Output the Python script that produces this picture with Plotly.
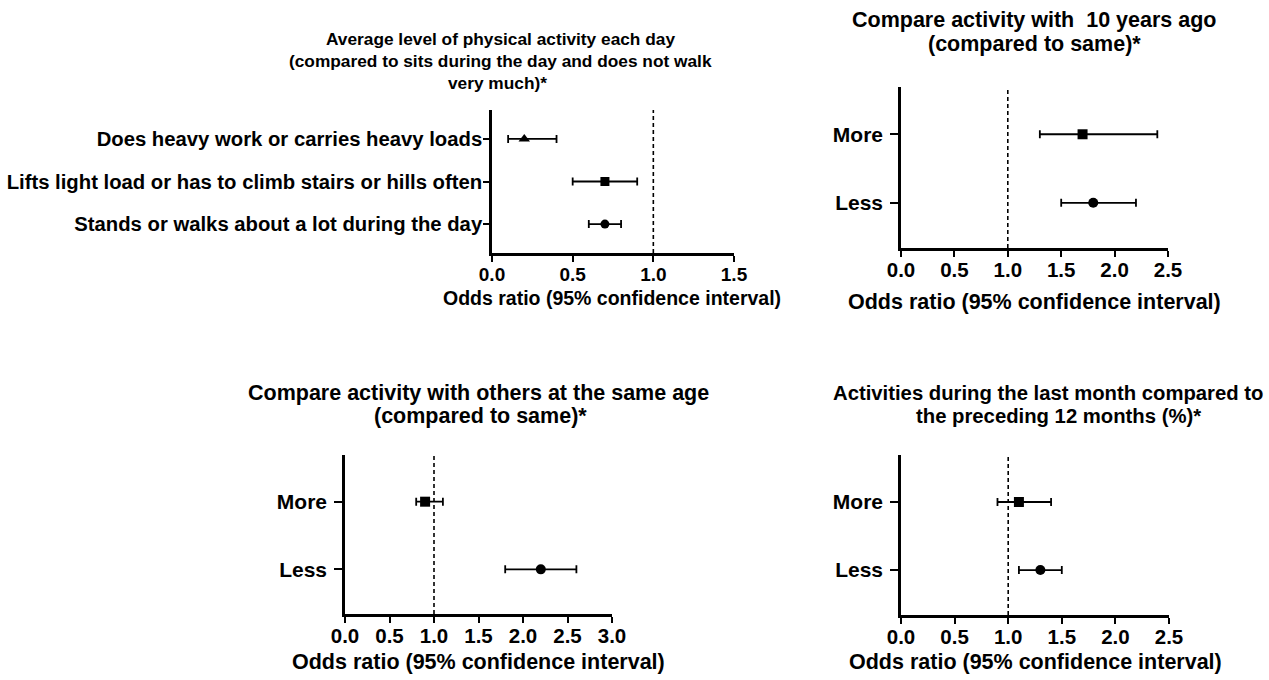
import plotly.graph_objects as go

# ---------------- data ----------------
p1_labels = ["Does heavy work or carries heavy loads",
             "Lifts light load or has to climb stairs or hills often",
             "Stands or walks about a lot during the day"]
p1_pos = [2, 1, 0]
p1_or = [0.2, 0.7, 0.7]
p1_lo = [0.1, 0.5, 0.6]
p1_hi = [0.4, 0.9, 0.8]
p1_symbols = ["triangle-up", "square", "circle"]

cat_labels = ["More", "Less"]
cat_pos = [1, 0]
cat_symbols = ["square", "circle"]

p2_or = [1.7, 1.8]
p2_lo = [1.3, 1.5]
p2_hi = [2.4, 2.2]

p3_or = [0.9, 2.2]
p3_lo = [0.8, 1.8]
p3_hi = [1.1, 2.6]

p4_or = [1.1, 1.3]
p4_lo = [0.9, 1.1]
p4_hi = [1.4, 1.5]

titles = {
    1: ["Average level of physical activity each day",
        "(compared to sits during the day and does not walk",
        "very much)*"],
    2: ["Compare activity with  10 years ago", "(compared to same)*"],
    3: ["Compare activity with others at the same age", "(compared to same)*"],
    4: ["Activities during the last month compared to",
        "the preceding 12 months (%)*"],
}
x_title = "Odds ratio (95% confidence interval)"

# ---------------- layout helpers ----------------
W, H = 1269, 680
FONT = "Liberation Sans, Arial, sans-serif"


def fx(px):
    return px / W


def fy(py):
    return 1 - py / H


fig = go.Figure()


def add_panel(idx, ys, ors, los, his, symbols, sizes):
    xa = "x" if idx == 1 else f"x{idx}"
    ya = "y" if idx == 1 else f"y{idx}"
    for y, o, lo, hi, s, sz in zip(ys, ors, los, his, symbols, sizes):
        fig.add_trace(go.Scatter(
            x=[o], y=[y], xaxis=xa, yaxis=ya, mode="markers",
            marker=dict(symbol=s, size=sz, color="black"),
            error_x=dict(type="data", symmetric=False,
                         array=[hi - o], arrayminus=[o - lo],
                         color="black", thickness=1.8, width=4),
            showlegend=False, hoverinfo="skip"))
    fig.add_shape(type="line", xref=xa, yref=f"{ya} domain",
                  x0=1, x1=1, y0=0, y1=1,
                  line=dict(color="black", width=1.6, dash="4px,3px"))


add_panel(1, p1_pos, p1_or, p1_lo, p1_hi, p1_symbols, [10, 9, 9])
add_panel(2, cat_pos, p2_or, p2_lo, p2_hi, cat_symbols, [10, 10])
add_panel(3, cat_pos, p3_or, p3_lo, p3_hi, cat_symbols, [10, 10])
add_panel(4, cat_pos, p4_or, p4_lo, p4_hi, cat_symbols, [10, 10])


def xaxis(dom, rng, tsize, anchor):
    return dict(domain=[fx(dom[0]), fx(dom[1])], range=rng, dtick=0.5, tick0=0,
                tickformat=".1f", showline=True, linecolor="black", linewidth=2.5,
                ticks="outside", ticklen=6, tickwidth=2, tickcolor="black",
                ticklabelstandoff=-4,
                showgrid=False, zeroline=False, fixedrange=True, automargin=False,
                anchor=anchor,
                tickfont=dict(family=FONT, size=tsize, color="black", weight="bold"))


def yaxis(dom, rng, vals, text, tsize, anchor, ticklen, standoff):
    return dict(domain=[fy(dom[1]), fy(dom[0])], range=rng, tickvals=vals,
                ticktext=text, showline=True, linecolor="black", linewidth=2.5,
                ticks="outside", ticklen=ticklen, tickwidth=2, tickcolor="black",
                ticklabelstandoff=standoff,
                showgrid=False, zeroline=False, fixedrange=True, anchor=anchor,
                automargin=False,
                tickfont=dict(family=FONT, size=tsize, color="black", weight="bold"))


fig.update_layout(
    template="none",
    width=W, height=H,
    margin=dict(l=0, r=0, t=0, b=0, pad=0, autoexpand=False),
    paper_bgcolor="white", plot_bgcolor="white",
    xaxis=xaxis((492, 734), [0, 1.5], 19, "y"),
    yaxis=yaxis((110, 253), [-0.68, 2.68], p1_pos, p1_labels, 20.3, "x", 6, -3),
    xaxis2=xaxis((901, 1168), [0, 2.5], 20.5, "y2"),
    yaxis2=yaxis((87, 248), [-0.66, 1.69], cat_pos, cat_labels, 21, "x2", 8, 3),
    xaxis3=xaxis((345, 612), [0, 3.0], 20.5, "y3"),
    yaxis3=yaxis((455, 614), [-0.66, 1.69], cat_pos, cat_labels, 21, "x3", 8, 3),
    xaxis4=xaxis((901, 1169), [0, 2.5], 20.5, "y4"),
    yaxis4=yaxis((455, 615), [-0.66, 1.69], cat_pos, cat_labels, 21, "x4", 8, 3),
)

# titles (one annotation per line)
title_layout = {
    1: dict(xs=[500, 500, 497], ys=[39, 61, 83], size=17.3),
    2: dict(xs=[1034, 1034], ys=[20, 44], size=21.5),
    3: dict(xs=[478, 480], ys=[393, 416], size=21.5),
    4: dict(xs=[1048, 1058], ys=[393, 416], size=20.3),
}
annotations = []
for k, lines in titles.items():
    tl = title_layout[k]
    for line, x, y in zip(lines, tl["xs"], tl["ys"]):
        annotations.append(dict(
            text=line, x=fx(x), y=fy(y), xref="paper", yref="paper",
            xanchor="center", yanchor="middle", showarrow=False,
            font=dict(family=FONT, size=tl["size"], color="black", weight="bold")))

# x-axis titles
for x, y, size in [(612, 298, 19.5), (1034, 302, 21.5), (478, 662, 21.5), (1035, 662, 21.5)]:
    annotations.append(dict(
        text=x_title, x=fx(x), y=fy(y), xref="paper", yref="paper",
        xanchor="center", yanchor="middle", showarrow=False,
        font=dict(family=FONT, size=size, color="black", weight="bold")))

fig.update_layout(annotations=annotations)

fig.write_html("out.html",
               config={"displayModeBar": False},
               post_script="document.body.style.margin='0';"
                           "document.body.style.overflow='hidden';")
